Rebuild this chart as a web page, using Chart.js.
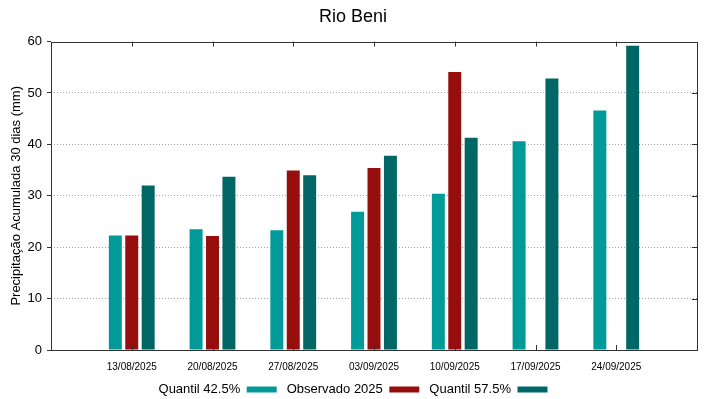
<!DOCTYPE html>
<html>
<head>
<meta charset="utf-8">
<script src="https://cdn.jsdelivr.net/npm/chart.js@4.4.0/dist/chart.umd.min.js"></script>
<style>
  html,body{margin:0;padding:0;background:#fff;}
  #wrap{width:719px;height:399px;}
</style>
</head>
<body>
<div id="wrap"><canvas id="chart"></canvas></div>
<script>
// data
var datas = ["13/08/2025","20/08/2025","27/08/2025","03/09/2025","10/09/2025","17/09/2025","24/09/2025"];
var quantil425 = [22.3, 23.5, 23.3, 26.9, 30.4, 40.6, 46.6];
var observado  = [22.3, 22.2, 34.9, 35.4, 54.1, null, null];
var quantil575 = [32.0, 33.7, 34.0, 37.8, 41.3, 52.8, 59.2];
var yTicks = [0, 10, 20, 30, 40, 50, 60];

// empty slot at each end so the groups sit on the 1..7 positions
function pad(arr){ return [null].concat(arr).concat([null]); }
var labels = [""].concat(datas).concat([""]);

var fonte = "'Liberation Sans', Arial, sans-serif";

// frame + inward ticks like gnuplot
var moldura = {
  id: "moldura",
  afterDraw: function(chart){
    var ctx = chart.ctx, a = chart.chartArea;
    var sx = chart.scales.x, sy = chart.scales.y;
    ctx.save();
    ctx.strokeStyle = "#333";
    ctx.lineWidth = 1;
    ctx.beginPath();
    for (var i = 1; i < labels.length - 1; i++) {
      var px = Math.round(sx.getPixelForTick(i)) + 0.5;
      ctx.moveTo(px, a.bottom); ctx.lineTo(px, a.bottom - 5);
      ctx.moveTo(px, a.top); ctx.lineTo(px, a.top + 5);
    }
    for (var j = 1; j < yTicks.length - 1; j++) {
      var py = Math.round(sy.getPixelForValue(yTicks[j])) + 0.5;
      ctx.moveTo(a.right, py); ctx.lineTo(a.right - 5, py);
    }
    ctx.stroke();
    ctx.strokeRect(Math.round(a.left) + 0.5, Math.round(a.top) + 0.5,
                   Math.round(a.right - a.left), Math.round(a.bottom - a.top));
    ctx.restore();
  }
};

var ctx = document.getElementById("chart");
var grafico = new Chart(ctx, {
  type: "bar",
  data: {
    labels: labels,
    datasets: [
      { label: "Quantil 42.5%", data: pad(quantil425), backgroundColor: "#009a98" },
      { label: "Observado 2025", data: pad(observado), backgroundColor: "#960e0e" },
      { label: "Quantil 57.5%", data: pad(quantil575), backgroundColor: "#006766" }
    ]
  },
  options: {
    responsive: true,
    maintainAspectRatio: false,
    animation: false,
    layout: { padding: { top: 0, right: 22, bottom: -7, left: 9 } },
    datasets: { bar: { categoryPercentage: 0.61, barPercentage: 0.79 } },
    scales: {
      x: {
        offset: false,
        grid: { display: false, drawTicks: false },
        border: { display: false },
        ticks: { autoSkip: false, maxRotation: 0, color: "#000", padding: 11, font: { family: fonte, size: 10 } },
        afterFit: function(s){ s.height = 23; }
      },
      y: {
        min: 0, max: 60,
        ticks: { stepSize: 10, color: "#000", padding: 5, font: { family: fonte, size: 13 } },
        grid: {
          color: function(c){ return (c.tick.value === 0 || c.tick.value === 60) ? "rgba(0,0,0,0)" : "#a0a0a0"; },
          tickColor: "#333",
          tickLength: 4,
          lineWidth: 1
        },
        border: { display: false, dash: [1, 2] },
        title: { display: true, text: "Precipitação Acumulada 30 dias (mm)", color: "#000", padding: { top: 0, bottom: 2 }, font: { family: fonte, size: 13 } },
        afterFit: function(s){ s.width = 42; }
      }
    },
    plugins: {
      title: { display: true, text: "Rio Beni", color: "#000", padding: { top: 6, bottom: 14 }, font: { family: fonte, size: 18, weight: "normal" } },
      legend: {
        position: "bottom",
        rtl: true,
        reverse: true,
        labels: { boxWidth: 30, boxHeight: 6, padding: 10, color: "#000", font: { family: fonte, size: 13 } }
      },
      tooltip: { enabled: false }
    }
  },
  plugins: [moldura]
});
</script>
</body>
</html>
